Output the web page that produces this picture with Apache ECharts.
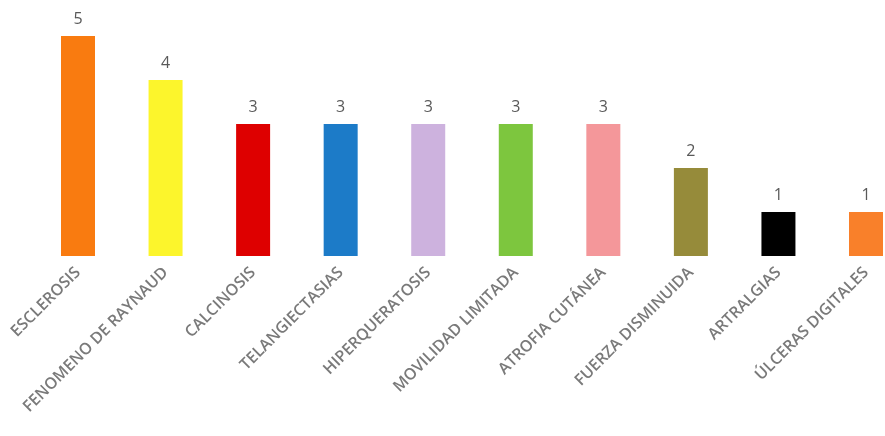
<!DOCTYPE html>
<html>
<head>
<meta charset="utf-8">
<script src="https://cdn.jsdelivr.net/npm/echarts@6/dist/echarts.min.js"></script>
<style>html,body{margin:0;padding:0;background:#fff;}#c{width:885px;height:436px;}</style>
</head>
<body>
<div id="c"></div>
<script>
const categories = ["ESCLEROSIS","FENOMENO DE RAYNAUD","CALCINOSIS","TELANGIECTASIAS","HIPERQUERATOSIS","MOVILIDAD LIMITADA","ATROFIA CUTÁNEA","FUERZA DISMINUIDA","ARTRALGIAS","ÚLCERAS DIGITALES"];
const values = [5,4,3,3,3,3,3,2,1,1];
const colors = ["#F97B10","#FCF52C","#DE0000","#1C7BC8","#CDB2DE","#7DC63E","#F4979A","#968B3A","#000000","#F9802A"];

const chart = echarts.init(document.getElementById('c'));
chart.setOption({
  animation: false,
  backgroundColor: '#ffffff',
  grid: {left: 78, right: 19, top: 36, bottom: 180, containLabel: false},
  xAxis: {
    type: 'category',
    data: categories,
    boundaryGap: false,
    axisLine: {show: false},
    axisTick: {show: false},
    axisLabel: {
      interval: 0, rotate: 45, margin: 14,
      color: '#7A7A7A', fontFamily: 'Open Sans', fontSize: 16, fontWeight: 600
    }
  },
  yAxis: {type: 'value', min: 0, max: 5, show: false, splitLine: {show: false}},
  series: [{
    type: 'bar',
    barWidth: 34,
    clip: false,
    data: values.map((v, i) => ({value: v, itemStyle: {color: colors[i]}})),
    label: {show: true, position: 'top', distance: 9, color: '#595959', fontFamily: 'Open Sans', fontSize: 16}
  }]
});
</script>
</body>
</html>
